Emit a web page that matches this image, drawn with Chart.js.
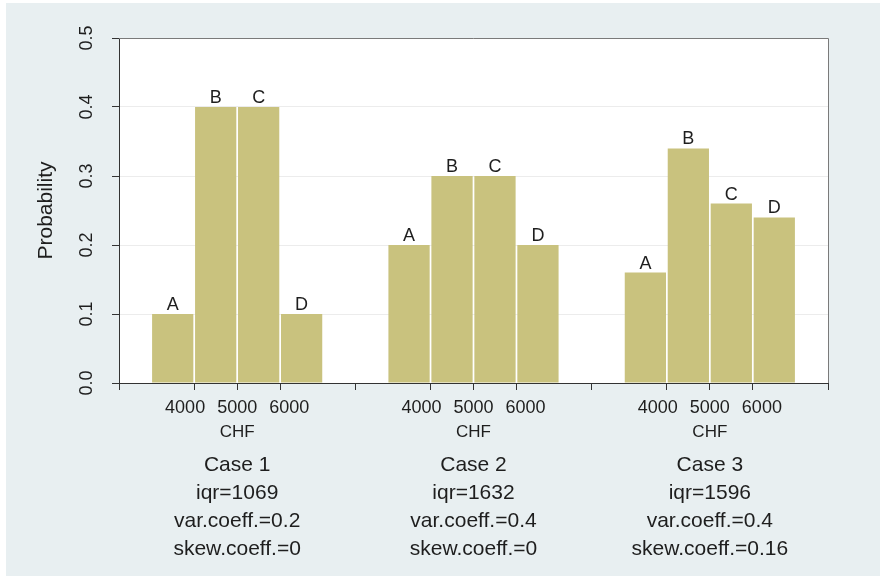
<!DOCTYPE html>
<html>
<head>
<meta charset="utf-8">
<script src="https://cdn.jsdelivr.net/npm/chart.js@4.4.0/dist/chart.umd.min.js"></script>
<style>
  html, body { margin: 0; padding: 0; background: #fff; }
  #wrap { width: 880px; height: 577px; }
</style>
</head>
<body>
<div id="wrap"><canvas id="chart" width="880" height="577"></canvas></div>
<script>
// bins A-D, centres in CHF
const categories = ['A', 'B', 'C', 'D'];
const binCenters = [3500, 4500, 5500, 6500];
const tickValues = [4000, 5000, 6000];
const yTicks = [0, 0.1, 0.2, 0.3, 0.4, 0.5];

const caseNames = ['Case 1', 'Case 2', 'Case 3'];
const case1 = [0.1, 0.4, 0.4, 0.1];
const case2 = [0.2, 0.3, 0.3, 0.2];
const case3 = [0.16, 0.34, 0.26, 0.24];
const iqr = [1069, 1632, 1596];
const varCoeff = [0.2, 0.4, 0.4];
const skewCoeff = [0, 0, 0.16];

const BG = '#e8eff1';
const BAR = '#c9c27e';
const INK = '#1e1e1e';
const FONT = '"Liberation Sans", Arial, sans-serif';

// every case gets its own panel of the same width on one linear axis
const PANEL = 5500;
const PANEL_FROM = 2250;
const toX = (k, chf) => k * PANEL + chf - PANEL_FROM;

const series = [case1, case2, case3];

const xTicks = [];
for (let k = 0; k <= series.length; k++) xTicks.push(k * PANEL);
series.forEach((s, k) => tickValues.forEach(v => xTicks.push(toX(k, v))));
xTicks.sort((a, b) => a - b);

const decor = {
  id: 'decor',
  beforeDraw(chart) {
    const { ctx, chartArea: a } = chart;
    ctx.save();
    ctx.fillStyle = '#fff';
    ctx.fillRect(0, 0, chart.width, chart.height);
    ctx.fillStyle = BG;
    ctx.fillRect(6, 3, chart.width - 6, chart.height - 4);
    ctx.fillStyle = '#fff';
    ctx.fillRect(a.left, a.top, a.right - a.left, a.bottom - a.top);
    ctx.restore();
  },
  afterDatasetsDraw(chart) {
    const ctx = chart.ctx;
    ctx.save();
    ctx.fillStyle = INK;
    ctx.font = '18px ' + FONT;
    ctx.textAlign = 'center';
    ctx.textBaseline = 'alphabetic';
    chart.data.datasets.forEach((ds, d) => {
      chart.getDatasetMeta(d).data.forEach((el, i) => {
        ctx.fillText(categories[i], el.x, el.y - 4);
      });
    });
    ctx.restore();
  },
  afterDraw(chart) {
    const { ctx, chartArea: a } = chart;
    const x = chart.scales.x, y = chart.scales.y;
    ctx.save();
    // frame top/right
    ctx.strokeStyle = '#7a7a7a';
    ctx.lineWidth = 1;
    ctx.beginPath();
    ctx.moveTo(a.left, a.top + 0.5);
    ctx.lineTo(a.right + 0.5, a.top + 0.5);
    ctx.lineTo(a.right + 0.5, a.bottom);
    ctx.stroke();

    ctx.fillStyle = INK;
    ctx.textBaseline = 'alphabetic';
    ctx.textAlign = 'center';

    // y tick labels, turned
    ctx.font = '18px ' + FONT;
    yTicks.forEach(v => {
      ctx.save();
      ctx.translate(a.left - 27, y.getPixelForValue(v));
      ctx.rotate(-Math.PI / 2);
      ctx.fillText(v.toFixed(1), 0, 0);
      ctx.restore();
    });

    ctx.save();
    ctx.font = '21px ' + FONT;
    ctx.translate(52, (a.top + a.bottom) / 2);
    ctx.rotate(-Math.PI / 2);
    ctx.fillText('Probability', 0, 0);
    ctx.restore();

    // per case: tick labels, CHF, stats
    series.forEach((s, k) => {
      const mid = x.getPixelForValue(toX(k, 5000));
      const spacing = x.getPixelForValue(toX(k, 6000)) - mid;
      ctx.font = '18px ' + FONT;
      const w = Math.max(...tickValues.map(v => ctx.measureText(String(v)).width));
      const step = Math.max(spacing, w + 12);
      tickValues.forEach((v, i) => {
        ctx.fillText(String(v), mid + (i - 1) * step, a.bottom + 30);
      });
      ctx.font = '17px ' + FONT;
      ctx.fillText('CHF', mid, a.bottom + 54);
      ctx.font = '21px ' + FONT;
      const lines = [
        caseNames[k],
        'iqr=' + iqr[k],
        'var.coeff.=' + varCoeff[k],
        'skew.coeff.=' + skewCoeff[k]
      ];
      lines.forEach((t, j) => ctx.fillText(t, mid, a.bottom + 88 + j * 28));
    });
    ctx.restore();
  }
};

new Chart(document.getElementById('chart'), {
  type: 'bar',
  data: {
    datasets: series.map((s, k) => ({
      label: caseNames[k],
      data: s.map((v, i) => ({ x: toX(k, binCenters[i]), y: v })),
      backgroundColor: BAR,
      borderWidth: 0,
      grouped: false,
      barPercentage: 0.96,
      categoryPercentage: 1
    }))
  },
  options: {
    responsive: false,
    animation: false,
    layout: { padding: { top: 38, right: 52, left: 0, bottom: 0 } },
    plugins: { legend: { display: false }, tooltip: { enabled: false } },
    scales: {
      x: {
        type: 'linear',
        min: 0,
        max: PANEL * series.length,
        offset: false,
        afterBuildTicks: scale => { scale.ticks = xTicks.map(v => ({ value: v })); },
        afterFit: scale => { scale.height = 194; },
        ticks: { display: false },
        grid: {
          offset: false,
          drawOnChartArea: false,
          drawTicks: true,
          tickLength: 7,
          tickColor: '#333'
        },
        border: { display: true, color: '#333', width: 1 }
      },
      y: {
        min: 0,
        max: 0.5,
        afterBuildTicks: scale => { scale.ticks = yTicks.map(v => ({ value: v })); },
        afterFit: scale => { scale.width = 119; },
        ticks: { display: false },
        grid: {
          color: c => (c.tick && c.tick.value > 0 && c.tick.value < 0.5) ? '#ececec' : 'rgba(0,0,0,0)',
          drawTicks: true,
          tickLength: 7,
          tickColor: '#333'
        },
        border: { display: true, color: '#333', width: 1 }
      }
    }
  },
  plugins: [decor]
});
</script>
</body>
</html>
